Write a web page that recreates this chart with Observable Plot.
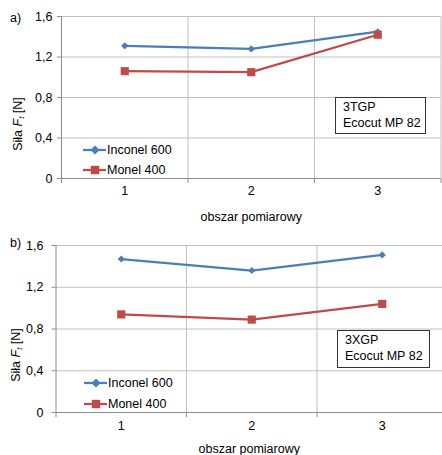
<!DOCTYPE html>
<html>
<head>
<meta charset="utf-8">
<script src="https://cdn.jsdelivr.net/npm/d3@7"></script>
<script src="https://cdn.jsdelivr.net/npm/@observablehq/plot@0.6"></script>
<style>
  body { margin: 0; background: #fff; font-family: "Liberation Sans", Arial, sans-serif; }
  #root { position: relative; width: 442px; height: 455px; overflow: hidden; background: #fff; }
  .panel { position: absolute; left: 0; width: 442px; overflow: hidden; }
  .abs { position: absolute; font-size: 12.5px; color: #000; white-space: nowrap; line-height: 1; }
  .ylab { transform: translate(-50%, -50%) rotate(-90deg); }
  .box { position: absolute; border: 1px solid #333; background: #fff; box-sizing: border-box; font-size: 12.5px; line-height: 15.5px; padding-left: 7px; }
  .leg { position: absolute; display: flex; align-items: center; font-size: 12.5px; white-space: nowrap; }
</style>
</head>
<body>
<div id="root"></div>
<script>
const areas = [1, 2, 3];
const seriesNames = ["Inconel 600", "Monel 400"];
const inconelA = [1.31, 1.28, 1.45];
const monelA = [1.06, 1.05, 1.42];
const inconelB = [1.47, 1.36, 1.51];
const monelB = [0.94, 0.89, 1.04];
const yTicks = [0, 0.4, 0.8, 1.2, 1.6];
const xBounds = [0.5, 1.5, 2.5, 3.5];
const panelLabels = ["a)", "b)"];
const boxLinesA = ["3TGP", "Ecocut MP 82"];
const boxLinesB = ["3XGP", "Ecocut MP 82"];
const xTitle = "obszar pomiarowy";

const colors = ["#4a7ebb", "#be4b48"];
const symbols = ["diamond2", "square"];
const radii = [3.2, 4.6];
const gridColor = "#c0c0c0";
const axisColor = "#8c8c8c";

function chart(inc, mon, L) {
  const rows = [];
  areas.forEach((a, i) => {
    rows.push({area: a, value: inc[i], series: seriesNames[0]});
    rows.push({area: a, value: mon[i], series: seriesNames[1]});
  });
  return Plot.plot({
    width: 442, height: L.height,
    marginTop: L.mt, marginBottom: L.mb, marginLeft: L.ml, marginRight: L.mr,
    x: {type: "linear", domain: [0.5, 3.5], range: L.xr},
    y: {domain: [0, 1.6]},
    color: {domain: seriesNames, range: colors},
    symbol: {domain: seriesNames, range: symbols},
    style: {fontFamily: "'Liberation Sans', Arial, sans-serif", fontSize: "12.5px", color: "#000", background: "#fff", overflow: "hidden"},
    marks: [
      Plot.ruleY(yTicks.filter(d => d > 0), {stroke: gridColor}),
      Plot.ruleX(xBounds.slice(1), {stroke: gridColor}),
      Plot.ruleX([0.5], {stroke: axisColor}),
      Plot.ruleY([0], {stroke: axisColor}),
      Plot.axisY({ticks: yTicks, tickSize: 4, tickPadding: L.ytp, tickFormat: d => String(d).replace(".", ","), label: null, stroke: axisColor, fill: "#000"}),
      Plot.axisX({ticks: xBounds, tickSize: 5, tickFormat: () => "", label: null, stroke: axisColor}),
      Plot.axisX({ticks: areas, tickSize: 0, tickPadding: L.xtp, tickFormat: d => String(d), label: xTitle, labelAnchor: "center", labelArrow: "none", labelOffset: L.lo, fill: "#000"}),
      Plot.line(rows, {x: "area", y: "value", z: "series", stroke: "series", strokeWidth: 2.25}),
      ...seriesNames.map((s, k) => Plot.dot(rows.filter(r => r.series === s), {x: "area", y: "value", symbol: "series", fill: "series", r: radii[k], stroke: null}))
    ]
  });
}

const root = document.getElementById("root");

const layouts = [
  {top: 0, height: 228, mt: 16, mb: 50, ml: 61, mr: 1.5, xr: [61, 440.5], ytp: 5, xtp: 8, lo: 42,
   inc: inconelA, mon: monelA, label: panelLabels[0], labelY: 18,
   ylab: [19, 124], legX: 83, legY: [149.7, 170], box: {l: 335, t: 97, w: 91, h: 37}, boxLines: boxLinesA},
  {top: 228, height: 227, mt: 17, mb: 43, ml: 55.5, mr: 0, xr: [55.5, 447], ytp: 8.5, xtp: 9, lo: 40,
   inc: inconelB, mon: monelB, label: panelLabels[1], labelY: 243,
   ylab: [17, 355], legX: 84, legY: [382.7, 403.7], box: {l: 337, t: 330, w: 93, h: 38}, boxLines: boxLinesB}
];

layouts.forEach(L => {
  const panel = document.createElement("div");
  panel.className = "panel";
  panel.style.top = L.top + "px";
  panel.style.height = L.height + "px";
  panel.appendChild(chart(L.inc, L.mon, L));
  root.appendChild(panel);

  const pl = document.createElement("div");
  pl.className = "abs";
  pl.style.left = "10px";
  pl.style.top = (L.labelY - 6.5) + "px";
  pl.textContent = L.label;
  root.appendChild(pl);

  const yl = document.createElement("div");
  yl.className = "abs ylab";
  yl.style.left = L.ylab[0] + "px";
  yl.style.top = L.ylab[1] + "px";
  yl.innerHTML = "Siła <i>F</i><sub style=\"font-size:8px;font-style:italic;vertical-align:-2px\">t</sub> [N]";
  root.appendChild(yl);

  seriesNames.forEach((s, k) => {
    const item = document.createElement("div");
    item.className = "leg";
    item.style.left = L.legX + "px";
    item.style.top = (L.legY[k] - 8) + "px";
    item.style.height = "16px";
    const sz = k === 0 ? 4.5 : 4.2;
    const marker = k === 0
      ? `<path d="M12,${8 - sz} L${12 + sz},8 L12,${8 + sz} L${12 - sz},8 Z" fill="${colors[k]}"/>`
      : `<rect x="${12 - sz}" y="${8 - sz}" width="${2 * sz}" height="${2 * sz}" fill="${colors[k]}"/>`;
    item.innerHTML = `<svg width="24" height="16" style="display:block"><line x1="0" y1="8" x2="23" y2="8" stroke="${colors[k]}" stroke-width="2.25"/>${marker}</svg><span style="margin-left:0px">${s}</span>`;
    root.appendChild(item);
  });

  const box = document.createElement("div");
  box.className = "box";
  box.style.left = L.box.l + "px";
  box.style.top = L.box.t + "px";
  box.style.width = L.box.w + "px";
  box.style.height = L.box.h + "px";
  box.style.paddingTop = "2px";
  box.innerHTML = L.boxLines.map(t => `<div>${t}</div>`).join("");
  root.appendChild(box);
});
</script>
</body>
</html>
